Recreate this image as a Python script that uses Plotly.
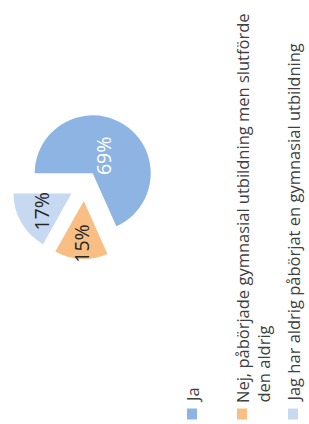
import math
import plotly.graph_objects as go

# ---- data ----
labels = ["Ja",
          "Nej, påbörjade gymnasial utbildning men slutförde den aldrig",
          "Jag har aldrig påbörjat en gymnasial utbildning"]
legend_lines = [["Ja"],
                ["Nej, påbörjade gymnasial utbildning men slutförde", "den aldrig"],
                ["Jag har aldrig påbörjat en gymnasial utbildning"]]
values = [69, 15, 17]
pct_text = ["69%", "15%", "17%"]
colors = ["#8DB4E3", "#F9BE83", "#C6D9F1"]
text_colors = ["#FFFFFF", "#262626", "#262626"]

W, H = 309, 424
PULL = 0.26
ROT = -90  # first slice starts at 9 o'clock (chart is rotated)
cx_px, cy_px, r_px = 84.5, 186.0, 58.0
label_rfrac = [0.35, 0.74, 0.60]

half = r_px * (1 + PULL)
dom_x = [(cx_px - half) / W, (cx_px + half) / W]
dom_y = [1 - (cy_px + half) / H, 1 - (cy_px - half) / H]

fig = go.Figure(go.Pie(
    labels=labels, values=values, sort=False, direction="clockwise",
    rotation=ROT, pull=[PULL] * len(values), textinfo="none",
    marker=dict(colors=colors, line=dict(width=0)),
    domain=dict(x=dom_x, y=dom_y), showlegend=False, hoverinfo="label+percent",
))

total = sum(values)
ang = ROT
annotations = []
for v, t, tc, rf in zip(values, pct_text, text_colors, label_rfrac):
    span = v / total * 360
    mid = math.radians(ang + span / 2)
    ang += span
    dx, dy = math.sin(mid), -math.cos(mid)
    vx = cx_px + dx * PULL * r_px
    vy = cy_px + dy * PULL * r_px
    px = vx + dx * rf * r_px
    py = vy + dy * rf * r_px
    annotations.append(dict(
        x=px / W, y=1 - py / H, xref="paper", yref="paper", text=t,
        showarrow=False, textangle=-90, xanchor="center", yanchor="middle",
        font=dict(family="Open Sans", size=19.5, color=tc)))

# rotated legend
leg_x = [192, 242, 293]
line_gap = 21
marker_y = 414
shapes = []
for i, (lines, c) in enumerate(zip(legend_lines, colors)):
    x0 = leg_x[i]
    shapes.append(dict(type="rect", xref="paper", yref="paper",
                       x0=(x0 - 5) / W, x1=(x0 + 5) / W,
                       y0=1 - (marker_y + 5.5) / H, y1=1 - (marker_y - 5.5) / H,
                       fillcolor=c, line=dict(width=0)))
    for j, ln in enumerate(lines):
        annotations.append(dict(
            x=(x0 + j * line_gap) / W, y=1 - (marker_y - 9) / H,
            xref="paper", yref="paper", text=ln, showarrow=False,
            textangle=-90, xanchor="center", yanchor="bottom",
            font=dict(family="Open Sans", size=16.5, color="#404040")))

fig.update_layout(width=W, height=H, margin=dict(l=0, r=0, t=0, b=0),
                  paper_bgcolor="white", plot_bgcolor="white",
                  annotations=annotations, shapes=shapes)
fig.write_html("out.html", config={"displayModeBar": False},
               post_script="document.body.style.margin='0px';")
